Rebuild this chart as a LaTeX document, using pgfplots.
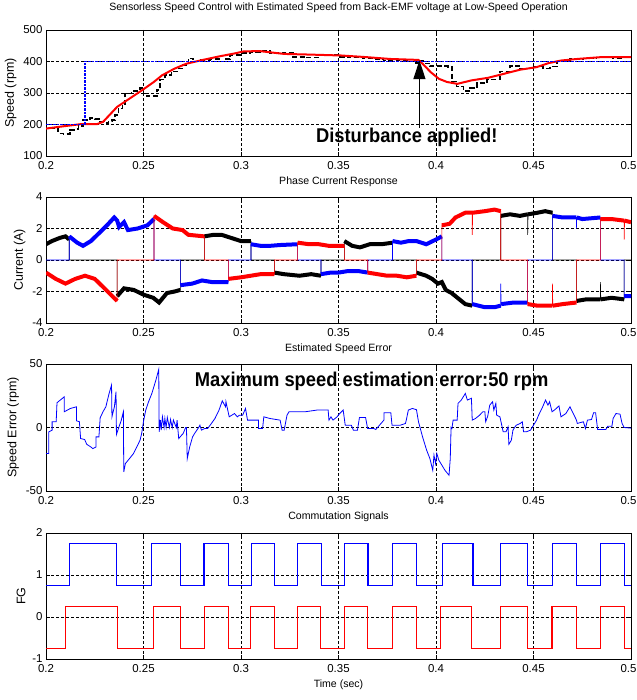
\documentclass[border=0pt]{standalone}
\usepackage{pgfplots}
\pgfplotsset{compat=1.18}
\usepackage{pgfplotstable}
\usepackage{graphicx}
\usepackage{fontspec}
\setmainfont{Liberation Sans}
\usetikzlibrary{arrows.meta}

\pgfplotstableread{
t y yb
0.2000 1.0 1.0
0.2030 1.2 1.2
0.2070 1.4 1.4
0.2100 1.5 1.5
0.2119 1.3 1.3
0.2119 0 nan
0.2365 0 nan
0.2365 -2.3 -2.3
0.2400 -1.8 -1.8
0.2450 -1.9 -1.9
0.2500 -2.2 -2.2
0.2550 -2.4 -2.4
0.2580 -2.7 -2.7
0.2620 -2.1 -2.1
0.2660 -2.0 -2.0
0.2689 -1.9 -1.9
0.2689 0 nan
0.2812 0 nan
0.2812 1.5 1.5
0.2860 1.6 1.6
0.2900 1.6 1.6
0.2950 1.4 1.4
0.3000 1.2 1.2
0.3051 1.2 1.2
0.3051 0 nan
0.3171 0 nan
0.3171 -0.8 -0.8
0.3220 -0.9 -0.9
0.3300 -1.0 -1.0
0.3360 -0.9 -0.9
0.3410 -1.0 -1.0
0.3410 0 nan
0.3530 0 nan
0.3530 1.2 1.2
0.3570 0.9 0.9
0.3610 0.8 0.8
0.3660 1.0 1.0
0.3720 1.0 1.0
0.3777 1.1 1.1
0.3777 0 nan
0.3899 0 nan
0.3899 -0.8 -0.8
0.3950 -1.0 -1.0
0.3980 -1.2 -1.2
0.4010 -1.5 -1.5
0.4030 -1.4 -1.4
0.4050 -1.9 -1.9
0.4080 -2.1 -2.1
0.4120 -2.5 -2.5
0.4150 -2.8 -2.8
0.4186 -2.9 -2.9
0.4186 0 nan
0.4332 0 nan
0.4332 2.8 2.8
0.4380 2.9 2.9
0.4430 2.8 2.8
0.4470 2.9 2.9
0.4470 1.6 nan
0.4472 2.9 2.9
0.4520 3.0 3.0
0.4560 3.1 3.1
0.4597 3.0 3.0
0.4597 0 nan
0.4720 0 nan
0.4720 -2.6 -2.6
0.4770 -2.5 -2.5
0.4843 -2.5 -2.5
0.4843 -1.4 nan
0.4845 -2.5 -2.5
0.4900 -2.4 -2.4
0.4965 -2.5 -2.5
0.4965 0 nan
0.5000 0 nan
}\phaseA

\pgfplotstableread{
t y yb
0.2000 0 nan
0.2119 0 nan
0.2119 1.5 1.5
0.2160 1.1 1.1
0.2190 0.9 0.9
0.2230 1.2 1.2
0.2280 1.8 1.8
0.2320 2.3 2.3
0.2350 2.7 2.7
0.2365 2.5 2.5
0.2375 2.1 2.1
0.2400 2.4 2.4
0.2420 1.9 1.9
0.2470 2.0 2.0
0.2520 2.2 2.2
0.2554 2.6 2.6
0.2554 0 nan
0.2689 0 nan
0.2689 -1.6 -1.6
0.2750 -1.5 -1.5
0.2800 -1.3 -1.3
0.2850 -1.4 -1.4
0.2935 -1.4 -1.4
0.2935 0 nan
0.3051 0 nan
0.3051 1.0 1.0
0.3100 0.9 0.9
0.3150 0.9 0.9
0.3200 0.95 0.95
0.3290 1.0 1.0
0.3290 0 nan
0.3410 0 nan
0.3410 -0.9 -0.9
0.3460 -0.8 -0.8
0.3500 -0.8 -0.8
0.3550 -0.7 -0.7
0.3600 -0.7 -0.7
0.3650 -0.8 -0.8
0.3650 0 nan
0.3777 0 nan
0.3777 1.2 1.2
0.3820 1.1 1.1
0.3860 1.2 1.2
0.3900 1.2 1.2
0.3950 1.0 1.0
0.4000 1.3 1.3
0.4030 1.5 1.5
0.4030 0 nan
0.4186 0 nan
0.4186 -2.8 -2.8
0.4250 -3.0 -3.0
0.4300 -3.0 -3.0
0.4332 -2.9 -2.9
0.4332 -1.5 nan
0.4334 -2.8 -2.8
0.4400 -2.7 -2.7
0.4470 -2.7 -2.7
0.4470 0 nan
0.4597 0 nan
0.4597 2.8 2.8
0.4650 2.7 2.7
0.4720 2.7 2.7
0.4720 2.0 nan
0.4722 2.7 2.7
0.4750 2.6 2.6
0.4843 2.7 2.7
0.4843 0 nan
0.4965 0 nan
0.4965 -2.3 -2.3
0.5000 -2.3 -2.3
}\phaseB

\pgfplotstableread{
t y yb
0.2000 -0.8 -0.8
0.2050 -1.2 -1.2
0.2100 -1.5 -1.5
0.2150 -1.2 -1.2
0.2200 -1.0 -1.0
0.2250 -1.2 -1.2
0.2300 -1.8 -1.8
0.2340 -2.3 -2.3
0.2365 -2.6 -2.6
0.2365 0 nan
0.2554 0 nan
0.2554 2.8 2.8
0.2600 2.4 2.4
0.2650 2.0 2.0
0.2700 1.9 1.9
0.2730 1.6 1.6
0.2812 1.5 1.5
0.2812 0 nan
0.2935 0 nan
0.2935 -1.2 -1.2
0.3000 -1.1 -1.1
0.3050 -1.0 -1.0
0.3100 -0.9 -0.9
0.3171 -0.9 -0.9
0.3171 0 nan
0.3290 0 nan
0.3290 1.1 1.1
0.3350 1.0 1.0
0.3400 1.0 1.0
0.3450 0.9 0.9
0.3530 0.9 0.9
0.3530 0 nan
0.3650 0 nan
0.3650 -0.8 -0.8
0.3700 -0.9 -0.9
0.3750 -1.0 -1.0
0.3800 -1.0 -1.0
0.3850 -1.1 -1.1
0.3899 -1.0 -1.0
0.3899 0 nan
0.4030 0 nan
0.4030 2.2 2.2
0.4070 2.3 2.3
0.4100 2.7 2.7
0.4150 3.0 3.0
0.4186 3.0 3.0
0.4186 1.6 nan
0.4188 3.0 3.0
0.4250 3.1 3.1
0.4300 3.2 3.2
0.4332 3.1 3.1
0.4332 0 nan
0.4470 0 nan
0.4470 -2.8 -2.8
0.4520 -2.9 -2.9
0.4580 -2.9 -2.9
0.4597 -2.9 -2.9
0.4597 -1.5 nan
0.4599 -2.9 -2.9
0.4650 -2.8 -2.8
0.4720 -2.7 -2.7
0.4720 0 nan
0.4843 0 nan
0.4843 2.6 2.6
0.4900 2.6 2.6
0.4965 2.5 2.5
0.4965 1.3 nan
0.4967 2.5 2.5
0.5000 2.4 2.4
}\phaseC

\pgfplotsset{
  matlab/.style={
    scale only axis, width=585bp,
    xmin=0.2, xmax=0.5,
    xtick={0.2,0.25,0.3,0.35,0.4,0.45,0.5},
    xticklabels={0.2,0.25,0.3,0.35,0.4,0.45,{\hspace{-5bp}0.5}},
    grid=major,
    major grid style={black, line width=0.5bp, dash pattern=on 2.5bp off 2.5bp},
    axis line style={black, line width=0.7bp},
    tick align=inside, major tick length=4bp,
    xtick pos=both, ytick pos=both,
    tick style={black, line width=0.5bp},
    tick label style={font=\fontsize{11.5}{13}\selectfont},
    xticklabel style={yshift=-2bp},
    ylabel style={font=\fontsize{12.5}{14}\selectfont},
    xlabel style={font=\fontsize{10.6}{12}\selectfont, at={(axis description cs:0.5,0)}, anchor=center, yshift=-26bp},
    unbounded coords=jump,
    anchor=south west,
  }
}

\begin{document}
\begin{tikzpicture}[x=1bp,y=1bp]
\useasboundingbox (0,0) rectangle (637,700);

% ---------- Speed ----------
\begin{axis}[matlab, at={(46bp,544bp)}, height=126bp,
  ymin=100, ymax=500, ytick={100,200,300,400,500}, yticklabels={100,200,300,400,500},
  ylabel={Speed (rpm)}, xlabel={Phase Current Response},
  title={Sensorless Speed Control with Estimated Speed from Back-EMF voltage at Low-Speed Operation},
  title style={font=\fontsize{10.6}{12}\selectfont, at={(axis description cs:0.5,1)}, anchor=center, yshift=16bp}]
\addplot[black, line width=1.6bp, dash pattern=on 5bp off 2.5bp, const plot] coordinates {
(0.2,200)(0.2021,188)(0.2063,172)(0.2089,170)(0.2123,183)(0.2157,185)(0.2166,195)(0.2191,214)(0.2226,220)(0.2251,217)(0.2277,209)(0.2303,204)(0.232,209)(0.2337,214)(0.2354,230)(0.2371,251)(0.2393,262)(0.2405,299)(0.2439,307)(0.2482,315)(0.2499,299)(0.2516,290)(0.2559,290)(0.2568,309)(0.2585,343)(0.261,357)(0.2644,368)(0.2679,378)(0.2704,389)(0.273,410)(0.2755,400)(0.279,405)(0.2841,407)(0.2892,400)(0.2918,407)(0.2944,421)(0.2995,426)(0.3046,431)(0.3097,434)(0.3149,426)(0.3217,428)(0.3268,415)(0.3337,413)(0.3405,421)(0.3456,421)(0.3508,415)(0.3559,413)(0.3627,410)(0.3679,407)(0.373,403)(0.3798,405)(0.385,400)(0.3884,396)(0.3909,403)(0.3935,394)(0.3969,385)(0.4004,385)(0.4063,383)(0.4081,336)(0.4106,320)(0.414,307)(0.4174,315)(0.4209,331)(0.426,343)(0.4328,368)(0.4379,386)(0.4431,378)(0.4499,384)(0.455,378)(0.4585,384)(0.4619,400)(0.4687,407)(0.4755,410)(0.4824,413)(0.4909,410)(0.4961,415)(0.5,413)};
\addplot[red, line width=2bp] coordinates {
(0.2,187)(0.2073,193)(0.2177,201)(0.2261,201)(0.2292,208)(0.2324,229)(0.2365,256)(0.2428,282)(0.2491,308)(0.2553,335)(0.2595,356)(0.2658,377)(0.272,393)(0.2804,405)(0.2887,416)(0.2971,426)(0.3013,432)(0.3096,433)(0.3221,424)(0.3347,422)(0.3514,419)(0.3639,414)(0.3764,408)(0.391,405)(0.3931,393)(0.3973,366)(0.4015,345)(0.4056,335)(0.4109,329)(0.4182,340)(0.4265,348)(0.4349,361)(0.4432,374)(0.4516,382)(0.4578,395)(0.4641,403)(0.4724,408)(0.485,414)(0.5,414)};
\addplot[blue, line width=1.5bp, dash pattern=on 2.5bp off 1bp] coordinates {(0.2,200)(0.22,200)(0.22,400)(0.5,400)};
\draw[black, line width=1.4bp, -{Triangle[length=19bp,width=12bp]}] (axis cs:0.3915,190) -- (axis cs:0.3915,404);
\node[font=\fontsize{20}{24}\selectfont\bfseries] at (axis cs:0.385,160) {\scalebox{0.92}[1]{Disturbance applied!}};
\end{axis}

% ---------- Current ----------
\begin{axis}[matlab, at={(46bp,377bp)}, height=126bp,
  ymin=-4, ymax=4, ytick={-4,-2,0,2,4}, yticklabels={-4,-2,0,2,4},
  ylabel={Current (A)}, xlabel={Estimated Speed Error}]
\addplot[black, line width=0.6bp] table[x=t,y=y] {\phaseA};
\addplot[black, line width=4bp] table[x=t,y=yb] {\phaseA};
\addplot[blue, line width=0.6bp] table[x=t,y=y] {\phaseB};
\addplot[blue, line width=4bp] table[x=t,y=yb] {\phaseB};
\addplot[red, line width=0.6bp] table[x=t,y=y] {\phaseC};
\addplot[red, line width=4bp] table[x=t,y=yb] {\phaseC};
\end{axis}

% ---------- Speed error ----------
\begin{axis}[matlab, at={(46bp,209bp)}, height=127bp,
  ymin=-50, ymax=50, ytick={-50,0,50}, yticklabels={-50,0,50},
  ylabel={Speed Error (rpm)}, xlabel={Commutation Signals}]
\addplot[blue, line width=0.8bp] coordinates {
(0.2,-20.5)(0.20146,-20.5)(0.20146,-3.4)(0.20313,-2.1)(0.20313,4.5)(0.20522,4.5)(0.20564,19.5)(0.20731,21.6)(0.20939,24.2)(0.20939,12.4)(0.21253,15)(0.21566,16.3)(0.21566,5.3)(0.21712,4.5)(0.21775,-8.7)(0.21983,-9.5)(0.22088,-13.2)(0.22296,-15.3)(0.22401,-16.6)(0.22568,-15.3)(0.22568,-7.4)(0.22714,-7.4)(0.22777,7.6)(0.22923,12.4)(0.23069,16.3)(0.23236,26.8)(0.23361,33.4)(0.23382,8.4)(0.23507,16.3)(0.23591,28.2)(0.23612,-5.5)(0.23716,-0.8)(0.23862,5.8)(0.23967,12.4)(0.23988,-35)(0.24071,-28.4)(0.2428,-24.5)(0.24489,-20.5)(0.24697,-14)(0.24823,-10)(0.24906,-4.7)(0.25011,5.8)(0.25115,13.7)(0.25261,20.3)(0.25428,26.8)(0.25637,37.4)(0.25783,45.8)(0.25804,-3.4)(0.25866,5.8)(0.25908,-2.1)(0.25971,8.4)(0.26054,0)(0.26096,7.1)(0.26159,0)(0.26221,7.9)(0.26326,0)(0.26388,6.3)(0.26472,0)(0.26534,5.8)(0.26681,0)(0.26722,5.8)(0.26806,-8.7)(0.26952,-6.1)(0.27036,-4.7)(0.27161,0)(0.27202,0)(0.27244,-24.5)(0.27369,-15.3)(0.27516,-7.4)(0.2762,-4.7)(0.27829,0)(0.27892,1.8)(0.27975,-2.1)(0.28142,-0.8)(0.28288,-0.8)(0.28455,2.6)(0.28664,7.1)(0.28873,13.7)(0.2904,21)(0.29207,16.3)(0.29228,20.3)(0.29395,8.4)(0.29666,11)(0.29812,8.4)(0.29917,9.7)(0.30084,9.7)(0.3023,15)(0.30334,5.8)(0.30898,5.8)(0.30898,-0.8)(0.31107,-0.8)(0.31169,8.4)(0.31482,7.1)(0.32004,5.8)(0.32109,-2.1)(0.32213,-2.1)(0.32359,9.7)(0.32464,12.4)(0.33299,12.4)(0.33883,13.7)(0.34468,13.7)(0.3451,5.8)(0.34614,8.4)(0.34718,5.8)(0.34927,8.4)(0.35032,10.5)(0.3524,13.7)(0.35345,1.8)(0.35658,1.8)(0.35762,-2.1)(0.35971,-2.1)(0.36075,7.9)(0.36388,7.9)(0.36493,-0.8)(0.36806,-0.8)(0.3691,-1.6)(0.37328,5.8)(0.37328,11.6)(0.37683,11.6)(0.37745,1.8)(0.38163,1.8)(0.38434,3.2)(0.38476,5.8)(0.38581,13.7)(0.38789,15)(0.38998,14)(0.39102,4.5)(0.39311,-7.4)(0.3952,-17.9)(0.39687,-24.5)(0.39833,-33.7)(0.39896,-21.8)(0.39979,-28.4)(0.40042,-20.5)(0.40146,-25.8)(0.40251,-28.4)(0.40459,-33.7)(0.40668,-37.6)(0.40731,-24.5)(0.40773,0)(0.40815,-0.8)(0.40877,5.8)(0.41086,5.8)(0.41128,19)(0.41295,21.6)(0.41503,26.8)(0.41608,21.6)(0.41816,23)(0.41858,5.8)(0.42025,7.1)(0.42234,9.7)(0.42401,12.4)(0.42505,12.4)(0.42547,4.5)(0.42652,8.9)(0.42756,17.6)(0.42902,20.3)(0.42965,13.7)(0.43069,19)(0.43111,9.7)(0.43278,8.4)(0.43445,-3.4)(0.43591,-3.4)(0.43696,0.5)(0.43737,-13.2)(0.43863,-10)(0.43946,-2.1)(0.4403,0)(0.44113,1.8)(0.44322,3.2)(0.44426,4.5)(0.44489,-3.4)(0.44635,-3.4)(0.44844,-2.1)(0.44948,0.5)(0.45157,5.8)(0.45261,9.7)(0.4547,16.3)(0.45616,21.6)(0.45741,17.6)(0.45825,20.3)(0.4595,12.4)(0.46096,14)(0.46305,17)(0.46409,8.4)(0.4666,11)(0.46869,16.3)(0.46994,12.4)(0.47203,5.8)(0.47244,3.2)(0.47558,4.5)(0.47662,-0.8)(0.47767,5.8)(0.47975,6.3)(0.4808,11.6)(0.48184,11.6)(0.48289,-1.6)(0.48706,-1.6)(0.48811,1)(0.4902,1)(0.49082,7.1)(0.49228,11)(0.49437,10.5)(0.49541,3.2)(0.49646,0)(0.5,-0.5)};
\node[font=\fontsize{20}{24}\selectfont\bfseries] at (axis cs:0.367,36) {\scalebox{0.92}[1]{Maximum speed estimation error:50 rpm}};
\end{axis}

% ---------- Commutation ----------
\begin{axis}[matlab, at={(46bp,41bp)}, height=126bp,
  ymin=-1, ymax=2, ytick={-1,0,1,2}, yticklabels={-1,0,1,2},
  ylabel={FG}, xlabel={Time (sec)}]
\addplot[blue, line width=1.2bp, const plot] coordinates {
(0.2,0.75)(0.2119,1.75)(0.2361,0.75)(0.2539,1.75)(0.2689,0.75)(0.281,1.75)(0.2935,0.75)(0.3052,1.75)(0.3171,0.75)(0.329,1.75)(0.3411,0.75)(0.353,1.75)(0.3651,0.75)(0.3777,1.75)(0.39,0.75)(0.4033,1.75)(0.419,0.75)(0.4332,1.75)(0.447,0.75)(0.4599,1.75)(0.472,0.75)(0.4843,1.75)(0.4965,0.75)(0.5,0.75)};
\addplot[red, line width=1.2bp, const plot] coordinates {
(0.2,-0.75)(0.2098,0.25)(0.2365,-0.75)(0.2553,0.25)(0.2689,-0.75)(0.2814,0.25)(0.2935,-0.75)(0.305,0.25)(0.3171,-0.75)(0.329,0.25)(0.3409,-0.75)(0.353,0.25)(0.3649,-0.75)(0.3777,0.25)(0.3898,-0.75)(0.4025,0.25)(0.4182,-0.75)(0.4332,0.25)(0.447,-0.75)(0.4595,0.25)(0.472,-0.75)(0.4843,0.25)(0.4965,-0.75)(0.5,-0.75)};
\end{axis}
\end{tikzpicture}
\end{document}
